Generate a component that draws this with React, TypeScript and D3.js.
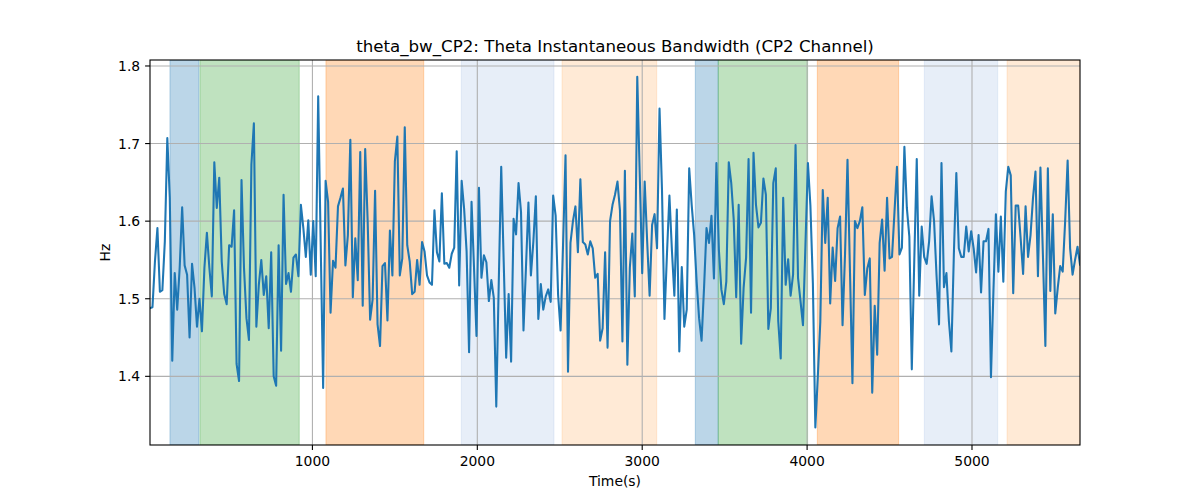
import React from 'react';
import * as d3 from 'd3';

const TITLE = 'theta_bw_CP2: Theta Instantaneous Bandwidth (CP2 Channel)';
const X_LABEL = 'Time(s)';
const Y_LABEL = 'Hz';

const T_START = 15;
const T_STEP = 15;

const values: number[] = [
  1.488, 1.489, 1.548, 1.591, 1.509, 1.511, 1.574, 1.707, 1.63, 1.420,
  1.533, 1.486, 1.540, 1.618, 1.543, 1.531, 1.450, 1.545, 1.514, 1.464,
  1.500, 1.458, 1.540, 1.585, 1.540, 1.503, 1.676, 1.617, 1.656, 1.548,
  1.506, 1.493, 1.569, 1.567, 1.614, 1.416, 1.394, 1.653, 1.540, 1.475,
  1.447, 1.673, 1.726, 1.464, 1.518, 1.550, 1.505, 1.529, 1.462, 1.560,
  1.400, 1.388, 1.569, 1.433, 1.634, 1.519, 1.533, 1.509, 1.553, 1.557,
  1.529, 1.621, 1.591, 1.554, 1.601, 1.531, 1.600, 1.529, 1.761, 1.573,
  1.385, 1.652, 1.625, 1.482, 1.549, 1.540, 1.619, 1.630, 1.642, 1.543,
  1.582, 1.705, 1.502, 1.578, 1.524, 1.689, 1.491, 1.693, 1.60, 1.473,
  1.499, 1.639, 1.467, 1.439, 1.542, 1.546, 1.472, 1.588, 1.530, 1.677,
  1.709, 1.530, 1.552, 1.721, 1.569, 1.548, 1.506, 1.509, 1.550, 1.518,
  1.573, 1.561, 1.530, 1.521, 1.518, 1.614, 1.560, 1.548, 1.636, 1.545,
  1.546, 1.540, 1.558, 1.566, 1.690, 1.517, 1.652, 1.616, 1.561, 1.431,
  1.625, 1.540, 1.452, 1.643, 1.527, 1.556, 1.547, 1.497, 1.524, 1.501,
  1.361, 1.52, 1.670, 1.548, 1.424, 1.506, 1.419, 1.603, 1.583, 1.649,
  1.612, 1.459, 1.54, 1.624, 1.530, 1.574, 1.632, 1.474, 1.519, 1.486,
  1.503, 1.512, 1.496, 1.633, 1.607, 1.505, 1.459, 1.57, 1.685, 1.406,
  1.572, 1.600, 1.619, 1.560, 1.654, 1.573, 1.570, 1.557, 1.574, 1.565,
  1.527, 1.532, 1.446, 1.462, 1.560, 1.437, 1.600, 1.621, 1.634, 1.651,
  1.614, 1.445, 1.665, 1.415, 1.540, 1.584, 1.503, 1.786, 1.66, 1.533,
  1.651, 1.574, 1.504, 1.595, 1.609, 1.565, 1.745, 1.64, 1.474, 1.557,
  1.633, 1.563, 1.504, 1.615, 1.432, 1.541, 1.464, 1.486, 1.668, 1.621,
  1.582, 1.522, 1.475, 1.446, 1.514, 1.591, 1.572, 1.607, 1.526, 1.675,
  1.563, 1.512, 1.493, 1.522, 1.676, 1.649, 1.602, 1.502, 1.621, 1.442,
  1.514, 1.553, 1.680, 1.482, 1.688, 1.621, 1.592, 1.598, 1.655, 1.634,
  1.461, 1.488, 1.649, 1.668, 1.471, 1.423, 1.630, 1.518, 1.551, 1.504,
  1.531, 1.698, 1.527, 1.497, 1.466, 1.57, 1.675, 1.62, 1.52, 1.334,
  1.40, 1.47, 1.640, 1.572, 1.630, 1.494, 1.566, 1.523, 1.591, 1.606,
  1.466, 1.557, 1.679, 1.535, 1.391, 1.600, 1.591, 1.600, 1.618, 1.505,
  1.539, 1.552, 1.379, 1.491, 1.428, 1.572, 1.602, 1.536, 1.630, 1.552,
  1.554, 1.612, 1.670, 1.557, 1.566, 1.696, 1.617, 1.580, 1.409, 1.55,
  1.680, 1.504, 1.593, 1.554, 1.545, 1.574, 1.632, 1.60, 1.53, 1.467,
  1.675, 1.515, 1.533, 1.471, 1.432, 1.557, 1.662, 1.565, 1.554, 1.554,
  1.593, 1.561, 1.587, 1.565, 1.534, 1.582, 1.508, 1.574, 1.574, 1.590,
  1.399, 1.51, 1.609, 1.535, 1.606, 1.522, 1.638, 1.670, 1.659, 1.507,
  1.620, 1.620, 1.578, 1.532, 1.619, 1.554, 1.582, 1.630, 1.664, 1.529,
  1.669, 1.557, 1.439, 1.668, 1.510, 1.609, 1.481, 1.514, 1.542, 1.535,
  1.600, 1.678, 1.565, 1.531, 1.550, 1.567, 1.544,
];

const spanStarts = [136, 318, 1082, 1903, 2514, 3322, 3461, 4062, 4711, 5213];
const spanEnds = [312, 920, 1675, 2465, 3088, 3461, 4003, 4555, 5156, 5655];
const spanColors = ['#1f77b4', '#2ca02c', '#ff7f0e', '#aec7e8', '#ffbb78', '#1f77b4', '#2ca02c', '#ff7f0e', '#aec7e8', '#ffbb78'];

const xTicks = [1000, 2000, 3000, 4000, 5000];
const yTicks = [1.4, 1.5, 1.6, 1.7, 1.8];

const W = 1200;
const H = 500;
const L = 150;
const R = 1080;
const T = 60;
const B = 445;
const FONT = '"DejaVu Sans", sans-serif';

export default function App() {
  const times = values.map((_, i) => T_START + i * T_STEP);
  const x = d3.scaleLinear().domain([times[0], times[times.length - 1]]).range([L, R]);
  const y = d3.scaleLinear().domain([1.3115, 1.8077]).range([B, T]);
  const line = d3
    .line<number>()
    .x((_, i) => x(times[i]))
    .y((d) => y(d));

  return (
    <svg
      width={W}
      height={H}
      style={{ position: 'absolute', left: 0, top: 0, background: '#fff' }}
      fontFamily={FONT}
    >
      <rect x={0} y={0} width={W} height={H} fill="#fff" />
      <defs>
        <clipPath id="plot">
          <rect x={L} y={T} width={R - L} height={B - T} />
        </clipPath>
      </defs>
      <g clipPath="url(#plot)">
        {spanStarts.map((s, i) => (
          <rect
            key={i}
            x={x(s)}
            y={T}
            width={x(spanEnds[i]) - x(s)}
            height={B - T}
            fill={spanColors[i]}
            fillOpacity={0.3}
            stroke={spanColors[i]}
            strokeOpacity={0.3}
            strokeWidth={1}
          />
        ))}
        {xTicks.map((t) => (
          <line key={'gx' + t} x1={x(t)} x2={x(t)} y1={T} y2={B} stroke="#b0b0b0" strokeWidth={1.1} />
        ))}
        {yTicks.map((t) => (
          <line key={'gy' + t} x1={L} x2={R} y1={y(t)} y2={y(t)} stroke="#b0b0b0" strokeWidth={1.1} />
        ))}
        <path d={line(values) || ''} fill="none" stroke="#1f77b4" strokeWidth={2.08} strokeLinejoin="round" strokeLinecap="square" />
      </g>
      <rect x={L} y={T} width={R - L} height={B - T} fill="none" stroke="#000" strokeWidth={1.1} />
      {xTicks.map((t) => (
        <g key={'tx' + t}>
          <line x1={x(t)} x2={x(t)} y1={B} y2={B + 4.9} stroke="#000" strokeWidth={1.1} />
          <text x={x(t)} y={B + 20.5} textAnchor="middle" fontSize={13.9} fill="#000">
            {t}
          </text>
        </g>
      ))}
      {yTicks.map((t) => (
        <g key={'ty' + t}>
          <line x1={L - 4.9} x2={L} y1={y(t)} y2={y(t)} stroke="#000" strokeWidth={1.1} />
          <text x={L - 9.8} y={y(t)} dy="0.36em" textAnchor="end" fontSize={13.9} fill="#000">
            {t.toFixed(1)}
          </text>
        </g>
      ))}
      <text x={(L + R) / 2} y={T - 8.3} textAnchor="middle" fontSize={16.67} fill="#000">
        {TITLE}
      </text>
      <text x={(L + R) / 2} y={486} textAnchor="middle" fontSize={13.9} fill="#000">
        {X_LABEL}
      </text>
      <text
        transform={`translate(${110},${(T + B) / 2}) rotate(-90)`}
        textAnchor="middle"
        fontSize={13.9}
        fill="#000"
      >
        {Y_LABEL}
      </text>
    </svg>
  );
}
